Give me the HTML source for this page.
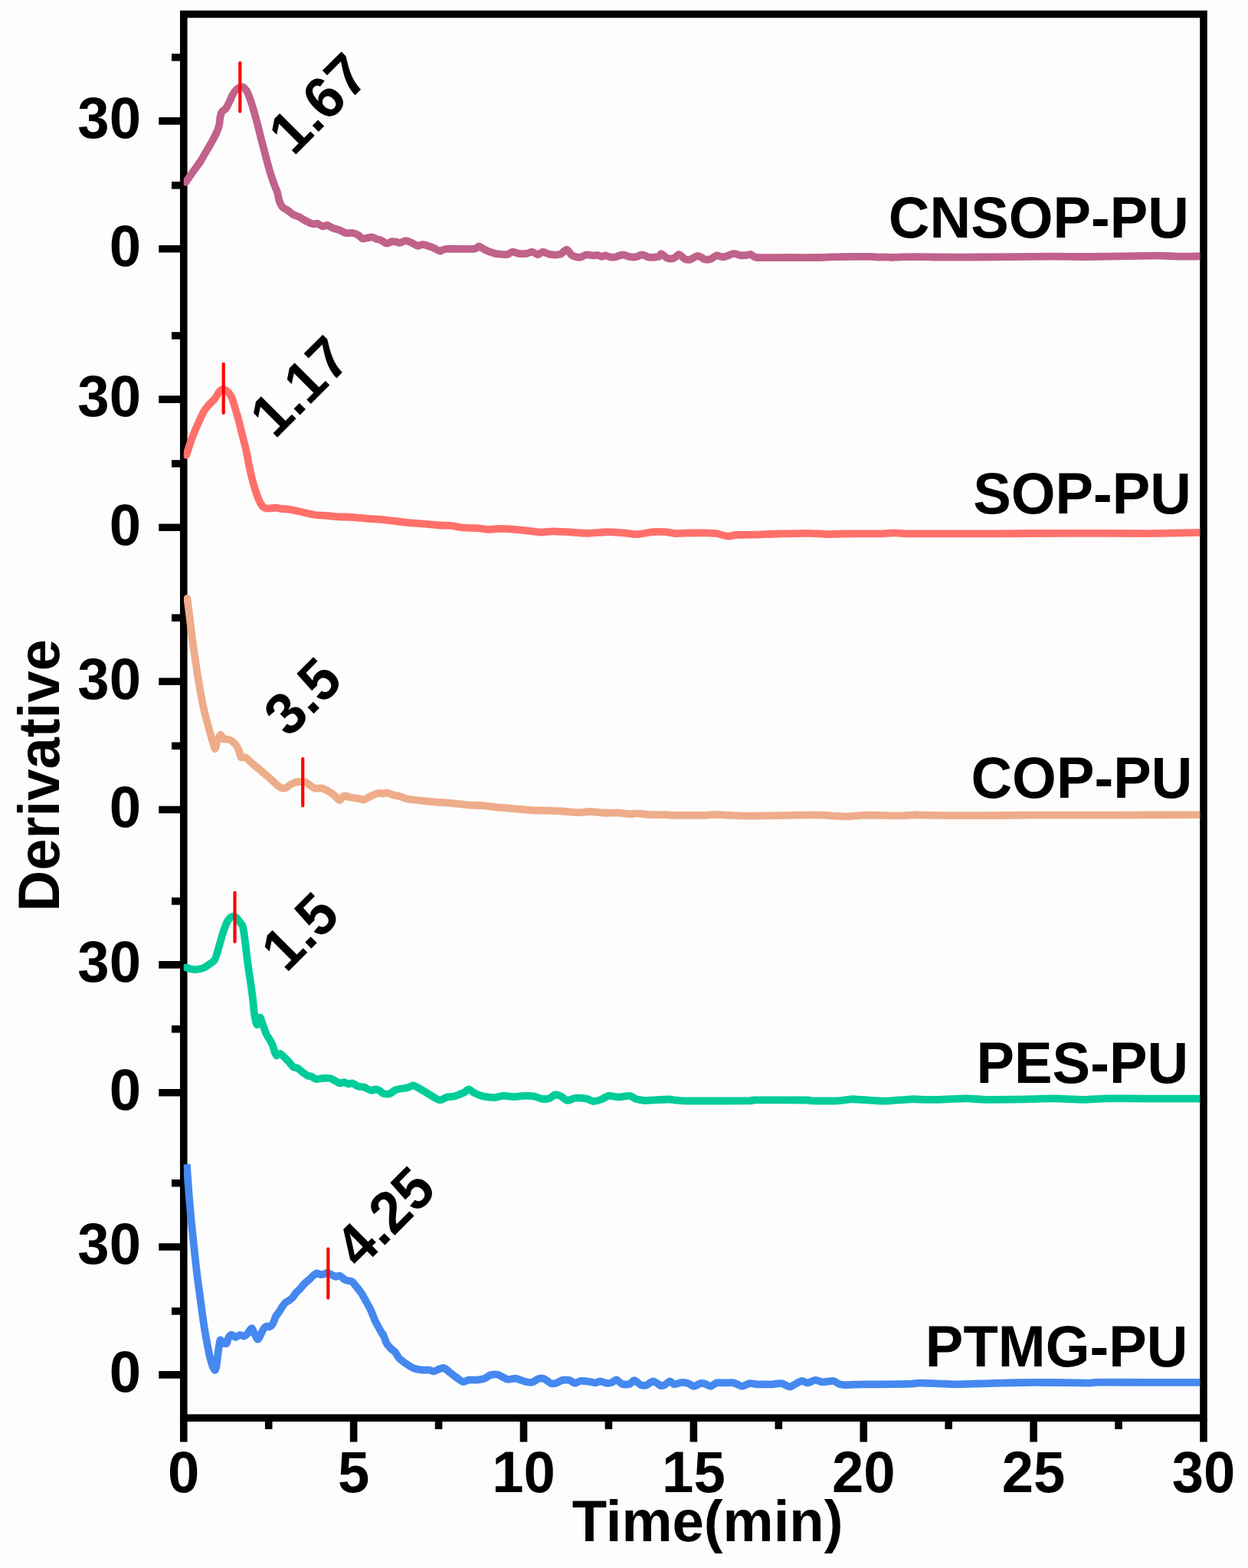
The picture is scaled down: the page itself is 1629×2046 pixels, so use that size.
<!DOCTYPE html>
<html lang="en"><head><meta charset="utf-8"><title>Derivative vs Time</title>
<style>html,body{margin:0;padding:0;background:#fdfdfd;}body{width:1629px;height:2046px;overflow:hidden;}svg{display:block;}</style>
</head><body>
<svg width="1629" height="2046" viewBox="0 0 1629 2046">
<rect width="1629" height="2046" fill="#fdfdfd"/>
<g stroke="#000" stroke-width="9.6" fill="none" stroke-linecap="butt">
<rect x="239.75" y="18.5" width="1331.25" height="1831.7"/>
<line x1="207.3" y1="157.9" x2="239.75" y2="157.9"/>
<line x1="207.3" y1="324.8" x2="239.75" y2="324.8"/>
<line x1="207.3" y1="521.1" x2="239.75" y2="521.1"/>
<line x1="207.3" y1="688.3" x2="239.75" y2="688.3"/>
<line x1="207.3" y1="889.2" x2="239.75" y2="889.2"/>
<line x1="207.3" y1="1056.5" x2="239.75" y2="1056.5"/>
<line x1="207.3" y1="1258.9" x2="239.75" y2="1258.9"/>
<line x1="207.3" y1="1425.8" x2="239.75" y2="1425.8"/>
<line x1="207.3" y1="1627.0" x2="239.75" y2="1627.0"/>
<line x1="207.3" y1="1793.9" x2="239.75" y2="1793.9"/>
<line x1="224" y1="74.85" x2="239.75" y2="74.85"/>
<line x1="224" y1="241.8" x2="239.75" y2="241.8"/>
<line x1="224" y1="438.0" x2="239.75" y2="438.0"/>
<line x1="224" y1="605.0" x2="239.75" y2="605.0"/>
<line x1="224" y1="806.2" x2="239.75" y2="806.2"/>
<line x1="224" y1="973.3" x2="239.75" y2="973.3"/>
<line x1="224" y1="1175.9" x2="239.75" y2="1175.9"/>
<line x1="224" y1="1342.8" x2="239.75" y2="1342.8"/>
<line x1="224" y1="1543.8" x2="239.75" y2="1543.8"/>
<line x1="224" y1="1710.9" x2="239.75" y2="1710.9"/>
<line x1="239.75" y1="1850.2" x2="239.75" y2="1881.5"/>
<line x1="461.62" y1="1850.2" x2="461.62" y2="1881.5"/>
<line x1="683.50" y1="1850.2" x2="683.50" y2="1881.5"/>
<line x1="905.38" y1="1850.2" x2="905.38" y2="1881.5"/>
<line x1="1127.25" y1="1850.2" x2="1127.25" y2="1881.5"/>
<line x1="1349.12" y1="1850.2" x2="1349.12" y2="1881.5"/>
<line x1="1571.00" y1="1850.2" x2="1571.00" y2="1881.5"/>
<line x1="350.69" y1="1850.2" x2="350.69" y2="1864.8"/>
<line x1="572.56" y1="1850.2" x2="572.56" y2="1864.8"/>
<line x1="794.44" y1="1850.2" x2="794.44" y2="1864.8"/>
<line x1="1016.31" y1="1850.2" x2="1016.31" y2="1864.8"/>
<line x1="1238.19" y1="1850.2" x2="1238.19" y2="1864.8"/>
<line x1="1460.06" y1="1850.2" x2="1460.06" y2="1864.8"/>
</g>
<clipPath id="plotclip"><rect x="239.75" y="18.5" width="1326.45" height="1831.7"/></clipPath>
<g fill="none" stroke-width="9.8" stroke-linejoin="round" clip-path="url(#plotclip)">
<path stroke="#c0628a" stroke-linecap="round" d="M242.5 237.7C243.7 236.0 249.8 227.2 252.1 223.9C254.4 220.6 259.0 214.6 261.3 211.0C263.6 207.4 268.4 199.0 270.5 195.4C272.6 191.8 276.3 185.5 277.9 182.5C279.5 179.5 282.4 173.8 283.4 171.4C284.4 169.0 285.7 165.5 286.2 163.1C286.7 160.7 287.0 154.3 287.5 152.1C288.0 149.9 289.0 146.9 289.9 145.6C290.8 144.3 293.4 143.5 294.5 142.0C295.6 140.5 298.0 136.0 299.1 133.7C300.2 131.4 302.6 125.6 303.7 123.5C304.8 121.4 307.1 118.3 308.3 117.1C309.5 115.9 312.1 114.2 313.2 113.8C314.3 113.4 316.4 113.2 317.5 113.8C318.6 114.4 321.0 116.9 322.1 118.9C323.2 120.9 325.6 126.8 326.7 130.0C327.8 133.2 330.2 140.8 331.3 144.7C332.4 148.6 334.8 156.9 335.9 161.3C337.0 165.7 339.4 175.2 340.5 179.7C341.6 184.2 344.0 192.8 345.1 197.2C346.2 201.6 348.6 210.6 349.7 214.7C350.8 218.8 353.2 226.7 354.3 230.3C355.4 233.9 357.9 240.5 358.9 243.2C359.9 245.8 361.5 249.2 362.2 251.5C362.9 253.8 363.6 259.4 364.4 261.7C365.2 264.0 367.1 268.3 368.5 269.9C369.9 271.5 373.7 273.2 375.5 274.5C377.3 275.8 381.1 279.1 382.9 280.1C384.7 281.1 388.4 281.9 390.2 282.8C392.0 283.7 395.8 286.4 397.6 287.4C399.5 288.4 403.5 290.5 405.0 291.1C406.5 291.7 408.5 292.3 409.6 292.4C410.8 292.5 412.7 291.3 414.2 291.7C415.7 292.1 419.9 295.1 421.5 295.4C423.1 295.7 425.5 293.6 427.1 293.9C428.7 294.2 432.3 296.8 434.4 297.6C436.5 298.4 441.5 299.5 443.6 300.3C445.7 301.1 448.9 303.5 451.0 304.0C453.1 304.5 458.1 303.6 460.2 304.0C462.3 304.4 466.0 305.9 467.6 306.8C469.2 307.7 471.7 310.9 473.1 311.4C474.5 311.9 477.0 310.7 478.6 310.5C480.2 310.3 484.4 309.3 486.0 309.5C487.6 309.7 490.1 311.4 491.5 311.9C492.9 312.4 495.6 312.6 497.0 313.2C498.4 313.8 501.5 316.4 502.6 316.9C503.8 317.4 505.1 317.7 506.2 317.5C507.3 317.3 510.4 315.3 511.8 315.1C513.2 314.9 516.0 315.4 517.3 315.6C518.6 315.8 520.3 317.1 521.9 316.9C523.5 316.7 527.8 314.2 529.8 314.2C531.8 314.2 535.7 316.1 537.6 316.9C539.5 317.7 543.5 320.5 545.3 320.8C547.1 321.1 549.5 318.9 551.9 319.1C554.2 319.3 561.3 321.6 564.1 322.6C566.9 323.7 571.6 327.2 574.0 327.5C576.4 327.8 577.4 325.1 582.9 324.8C588.4 324.5 613.0 325.2 618.2 324.8C623.5 324.4 623.1 321.4 624.9 321.5C626.7 321.6 630.0 324.5 632.6 325.7C635.2 326.9 643.1 330.0 645.9 330.8C648.7 331.6 652.6 331.8 654.7 331.9C656.8 332.0 660.6 332.3 662.4 331.9C664.2 331.5 667.3 328.7 669.1 328.6C670.9 328.5 674.5 330.5 676.8 330.8C679.1 331.1 685.6 331.1 687.8 330.8C690.0 330.5 692.7 328.4 694.5 328.6C696.3 328.8 700.4 332.3 702.2 332.3C704.0 332.3 706.9 328.7 708.8 328.6C710.7 328.6 714.9 331.5 717.7 331.9C720.5 332.3 728.1 332.7 730.9 331.9C733.7 331.1 737.9 325.6 739.8 325.7C741.7 325.8 744.3 331.7 746.4 333.0C748.5 334.3 754.0 336.0 756.4 335.9C758.8 335.8 763.0 332.8 765.2 332.5C767.4 332.2 772.1 333.3 774.0 333.4C775.9 333.5 779.3 332.8 780.7 333.0C782.1 333.2 783.9 334.8 785.1 334.8C786.3 334.9 789.1 333.3 790.6 333.4C792.1 333.5 795.5 335.4 797.2 335.6C798.9 335.8 802.0 335.6 803.9 335.2C805.8 334.8 810.4 332.5 812.7 332.5C815.1 332.5 820.5 334.9 822.7 335.2C824.9 335.5 828.5 335.5 830.4 335.2C832.3 334.9 835.9 332.4 838.1 332.5C840.3 332.6 845.4 335.6 848.1 335.9C850.8 336.2 858.1 335.4 860.0 334.8C861.9 334.2 861.9 331.0 863.3 331.3C864.7 331.6 868.9 336.2 871.0 336.9C873.1 337.6 877.9 337.5 879.8 336.9C881.7 336.3 884.7 331.8 886.5 332.0C888.3 332.2 892.3 337.4 894.2 338.2C896.1 339.0 899.8 338.8 901.9 338.2C904.0 337.6 908.6 333.8 910.8 333.8C913.0 333.8 917.5 337.6 919.6 338.2C921.7 338.8 925.4 338.8 927.3 338.2C929.2 337.6 933.2 333.9 935.1 333.5C937.0 333.1 940.9 335.3 942.8 335.3C944.7 335.3 948.7 334.1 950.6 333.5C952.5 332.9 956.4 330.9 958.3 330.9C960.2 330.8 964.1 332.8 966.0 333.1C967.9 333.4 972.0 333.2 973.8 333.1C975.6 333.0 978.6 331.6 980.4 332.0C982.2 332.4 982.3 335.5 988.1 336.0C993.9 336.5 1016.4 336.0 1026.8 336.0C1037.2 336.0 1063.8 336.1 1071.0 336.0C1078.2 335.9 1078.8 335.4 1084.3 335.3C1089.8 335.2 1108.6 334.9 1115.2 334.9C1121.8 334.8 1133.4 334.8 1137.3 334.9C1141.2 335.0 1143.9 335.6 1146.1 335.7C1148.3 335.8 1152.8 335.3 1155.0 335.3C1157.2 335.3 1161.0 336.0 1163.8 336.0C1166.6 336.0 1172.1 335.4 1177.1 335.3C1182.1 335.2 1197.7 335.1 1203.6 335.1C1209.5 335.1 1215.8 335.4 1224.6 335.5C1233.4 335.6 1255.3 335.6 1273.7 335.5C1292.1 335.4 1353.6 334.8 1372.0 334.7C1390.4 334.6 1404.2 335.1 1421.1 335.0C1438.0 334.9 1491.7 333.7 1507.1 333.7C1522.5 333.7 1536.3 334.6 1544.0 334.7C1551.7 334.8 1565.5 334.3 1568.6 334.2"/>
<path stroke="#ff706a" stroke-linecap="round" d="M243.3 593.8C243.9 591.8 247.1 581.9 248.4 578.1C249.7 574.3 252.4 567.1 253.9 563.4C255.4 559.7 258.8 552.2 260.4 548.7C262.0 545.2 265.2 538.4 266.8 535.8C268.4 533.1 271.6 529.5 273.3 527.5C275.0 525.5 279.1 522.0 280.6 520.1C282.1 518.2 284.2 514.1 285.2 512.7C286.2 511.3 287.9 509.2 288.9 508.7C289.9 508.2 292.4 508.1 293.5 508.5C294.6 508.9 297.0 510.5 298.1 511.8C299.2 513.1 301.6 516.4 302.7 519.2C303.8 522.0 306.1 530.0 307.3 533.9C308.5 537.8 310.8 546.1 312.0 550.5C313.2 554.9 315.5 564.3 316.6 568.9C317.8 573.5 320.2 582.7 321.2 587.3C322.2 591.9 323.9 601.3 324.8 605.7C325.7 610.1 327.5 618.1 328.5 622.3C329.5 626.4 332.0 635.2 333.1 638.9C334.2 642.6 336.6 649.1 337.7 651.8C338.8 654.4 341.2 658.7 342.3 660.1C343.4 661.5 345.3 662.8 346.9 663.2C348.5 663.6 353.6 663.3 355.2 663.2C356.8 663.1 358.4 662.2 359.8 662.3C361.2 662.4 364.3 663.5 366.3 663.8C368.3 664.0 373.0 664.0 375.5 664.3C378.0 664.6 383.5 665.9 386.5 666.5C389.5 667.1 396.2 668.6 399.4 669.3C402.6 670.0 408.6 671.5 412.3 672.0C416.0 672.5 425.2 672.7 428.9 673.0C432.6 673.3 437.9 674.1 441.8 674.3C445.7 674.5 455.6 674.5 460.2 674.8C464.8 675.1 474.2 676.2 478.6 676.6C483.0 677.0 492.5 677.4 495.2 677.6C497.9 677.8 497.6 677.8 500.0 678.1C502.4 678.4 510.7 679.3 514.7 679.8C518.7 680.3 527.0 681.3 531.9 681.8C536.8 682.3 548.9 683.2 554.1 683.7C559.3 684.2 569.4 685.2 573.7 685.5C578.0 685.8 584.8 685.5 588.5 685.9C592.2 686.3 598.9 688.0 603.2 688.4C607.5 688.8 618.6 688.8 622.9 689.1C627.2 689.4 633.9 690.8 637.6 690.9C641.3 691.0 648.0 689.9 652.3 689.9C656.6 689.9 667.1 690.5 672.0 690.9C676.9 691.3 687.3 692.3 691.6 692.8C695.9 693.2 702.7 694.4 706.4 694.5C710.1 694.6 716.8 693.3 721.1 693.3C725.4 693.2 735.3 693.8 740.8 694.1C746.3 694.4 760.2 695.7 765.4 695.8C770.6 695.9 778.9 695.0 782.6 694.8C786.3 694.6 790.8 694.0 794.8 694.1C798.8 694.2 809.9 694.9 814.5 695.3C819.1 695.7 827.1 697.4 831.7 697.2C836.3 697.1 846.8 694.5 851.4 694.1C856.0 693.7 864.9 693.9 868.6 694.1C872.3 694.3 876.9 695.8 880.8 696.0C884.7 696.2 895.2 695.6 899.7 695.5C904.2 695.4 912.6 695.2 916.9 695.3C921.2 695.4 930.0 695.5 934.1 696.0C938.2 696.5 946.6 699.5 950.0 699.7C953.4 700.0 956.6 698.2 961.1 698.0C965.6 697.8 978.6 697.9 985.7 697.7C992.8 697.5 1009.3 696.7 1017.6 696.5C1025.9 696.3 1045.2 695.8 1052.0 695.8C1058.8 695.8 1067.9 696.3 1071.6 696.5C1075.3 696.7 1077.8 697.2 1081.5 697.2C1085.2 697.2 1092.5 696.6 1101.1 696.5C1109.7 696.4 1142.0 696.4 1150.3 696.3C1158.6 696.1 1163.5 695.3 1167.5 695.3C1171.5 695.3 1178.1 696.2 1182.2 696.3C1186.3 696.4 1185.5 696.3 1200.0 696.3C1214.5 696.3 1273.7 696.4 1298.3 696.3C1322.9 696.2 1372.0 695.8 1396.6 695.8C1421.2 695.8 1473.3 696.2 1494.8 696.1C1516.3 696.0 1559.4 695.0 1568.6 694.8"/>
<path stroke="#eeac89" stroke-linecap="round" d="M244.4 780.9C244.7 783.0 246.0 792.8 246.6 797.6C247.2 802.5 248.6 814.2 249.3 819.7C250.0 825.2 251.3 836.3 252.1 841.8C252.9 847.3 254.6 858.6 255.4 863.9C256.2 869.2 257.6 878.9 258.5 884.2C259.4 889.5 261.3 901.2 262.2 906.3C263.1 911.4 265.0 920.6 265.9 924.7C266.8 928.8 268.6 935.5 269.6 939.4C270.6 943.3 273.2 952.3 274.2 956.0C275.2 959.7 277.1 966.2 277.9 968.9C278.7 971.5 279.9 977.3 280.6 977.2C281.3 977.1 282.5 970.3 283.4 968.0C284.3 965.7 286.5 959.3 287.5 958.8C288.5 958.3 290.5 963.5 291.7 964.3C292.9 965.0 295.8 964.4 297.2 964.8C298.6 965.1 301.3 966.1 302.7 967.1C304.1 968.1 307.1 971.0 308.3 972.6C309.5 974.2 311.2 977.9 312.0 979.9C312.8 981.9 313.7 987.2 314.7 988.2C315.7 989.2 318.6 987.4 320.2 988.2C321.8 989.0 325.5 992.9 327.6 994.7C329.7 996.5 334.5 1000.5 336.8 1002.4C339.1 1004.3 343.7 1008.3 346.0 1010.3C348.3 1012.3 353.1 1016.4 355.2 1018.3C357.3 1020.1 361.0 1023.8 362.6 1025.1C364.2 1026.4 366.7 1028.1 368.1 1028.4C369.5 1028.7 372.2 1028.4 373.6 1027.8C375.0 1027.2 377.6 1024.7 379.2 1023.8C380.8 1022.9 384.7 1021.0 386.5 1020.5C388.3 1020.0 392.3 1019.9 393.9 1019.9C395.5 1019.9 398.0 1020.1 399.4 1020.8C400.8 1021.4 403.5 1024.1 405.0 1025.1C406.5 1026.1 409.6 1028.3 411.4 1028.7C413.2 1029.1 417.7 1028.1 419.7 1028.4C421.7 1028.8 425.3 1030.5 427.1 1031.5C428.9 1032.5 432.8 1034.8 434.4 1036.1C436.0 1037.4 438.8 1040.6 439.9 1041.6C441.0 1042.6 442.7 1044.6 443.6 1044.4C444.5 1044.2 446.4 1040.5 447.3 1039.8C448.2 1039.1 449.9 1038.4 451.0 1038.5C452.1 1038.6 454.7 1039.9 456.5 1040.3C458.3 1040.7 463.4 1041.2 465.7 1041.6C468.0 1042.0 472.8 1043.7 474.9 1043.5C477.0 1043.3 480.4 1040.7 482.3 1039.8C484.2 1038.9 487.9 1036.7 489.7 1036.1C491.5 1035.5 495.7 1034.9 497.0 1034.8C498.3 1034.7 499.0 1035.6 500.0 1035.6C501.0 1035.5 503.4 1034.2 504.9 1034.4C506.4 1034.6 510.1 1036.3 512.3 1036.9C514.4 1037.5 519.6 1038.6 522.1 1039.3C524.6 1040.0 528.5 1041.8 531.9 1042.5C535.3 1043.2 544.5 1044.2 549.1 1044.7C553.7 1045.2 563.9 1046.3 568.8 1046.7C573.7 1047.1 583.3 1047.4 588.5 1047.9C593.7 1048.4 605.4 1050.0 610.6 1050.4C615.8 1050.8 625.6 1050.7 630.2 1051.1C634.8 1051.5 642.8 1052.8 647.4 1053.3C652.0 1053.8 661.6 1054.3 667.1 1054.8C672.6 1055.3 686.1 1056.6 691.6 1057.0C697.1 1057.4 706.1 1057.5 711.3 1057.7C716.5 1057.9 727.9 1058.2 733.4 1058.5C738.9 1058.8 750.9 1060.1 755.5 1060.2C760.1 1060.3 766.3 1058.9 770.3 1059.0C774.3 1059.1 782.9 1060.5 787.5 1060.7C792.1 1060.9 802.8 1060.5 807.1 1060.7C811.4 1060.9 818.8 1062.1 821.9 1062.2C825.0 1062.3 828.3 1061.3 831.7 1061.4C835.1 1061.5 844.3 1062.9 848.9 1063.1C853.5 1063.3 864.8 1063.0 868.6 1063.1C872.4 1063.2 878.2 1063.8 879.6 1063.9C881.0 1064.0 875.3 1063.9 880.0 1063.9C884.7 1063.9 910.4 1064.0 916.9 1063.9C923.4 1063.8 927.0 1062.9 931.6 1062.9C936.2 1062.9 947.9 1063.7 953.7 1063.9C959.5 1064.1 969.1 1064.6 978.3 1064.6C987.5 1064.6 1016.7 1064.1 1027.4 1063.9C1038.2 1063.8 1056.6 1063.3 1064.3 1063.4C1072.0 1063.5 1083.6 1064.3 1088.8 1064.6C1094.0 1064.8 1101.4 1065.5 1106.0 1065.4C1110.6 1065.3 1120.2 1064.1 1125.7 1063.9C1131.2 1063.7 1144.2 1063.8 1150.3 1063.9C1156.4 1064.0 1169.0 1064.5 1174.8 1064.4C1180.6 1064.3 1193.8 1063.2 1197.0 1063.1C1200.2 1063.0 1190.4 1063.6 1200.0 1063.7C1209.6 1063.8 1255.3 1064.2 1273.7 1064.2C1292.1 1064.2 1329.0 1063.8 1347.4 1063.7C1365.8 1063.6 1402.7 1063.7 1421.1 1063.7C1439.5 1063.7 1476.4 1063.5 1494.8 1063.4C1513.2 1063.3 1559.4 1063.2 1568.6 1063.2"/>
<path stroke="#00cc99" stroke-linecap="round" d="M242.9 1262.5C243.6 1262.7 246.9 1264.0 248.4 1264.3C249.9 1264.6 253.3 1265.2 254.9 1265.2C256.5 1265.2 259.8 1264.6 261.3 1264.3C262.8 1264.0 265.3 1263.3 266.8 1262.5C268.3 1261.7 271.7 1259.4 273.3 1258.2C274.9 1257.0 278.6 1254.7 279.7 1253.3C280.8 1251.9 281.7 1249.2 282.5 1246.8C283.3 1244.4 285.3 1237.1 286.2 1233.9C287.1 1230.7 289.0 1224.0 289.9 1221.0C290.8 1218.0 292.6 1212.4 293.5 1210.0C294.4 1207.6 296.3 1203.3 297.2 1201.7C298.1 1200.1 300.0 1197.9 300.9 1197.1C301.8 1196.3 303.7 1195.6 304.6 1195.6C305.5 1195.6 307.4 1196.3 308.3 1197.1C309.2 1197.9 311.0 1200.3 312.0 1201.7C313.0 1203.1 315.8 1206.1 316.6 1208.1C317.4 1210.0 317.9 1214.5 318.4 1217.3C318.8 1220.1 319.7 1226.5 320.2 1230.2C320.7 1233.9 321.5 1242.2 322.1 1246.8C322.7 1251.4 324.1 1262.3 324.8 1267.1C325.5 1271.9 327.0 1281.1 327.6 1285.5C328.2 1289.9 329.3 1297.7 329.8 1302.1C330.3 1306.5 331.3 1317.0 331.7 1320.5C332.1 1324.0 332.7 1327.6 333.1 1329.7C333.6 1331.8 334.7 1336.9 335.3 1337.1C335.9 1337.3 337.1 1332.7 337.7 1331.5C338.3 1330.3 339.3 1327.3 339.9 1327.8C340.5 1328.3 341.6 1333.4 342.3 1335.2C343.0 1337.0 344.4 1340.8 345.1 1342.6C345.8 1344.4 347.0 1348.1 347.9 1349.9C348.8 1351.7 351.5 1355.5 352.5 1357.3C353.5 1359.1 355.4 1362.6 356.2 1364.7C357.0 1366.8 358.3 1372.3 358.9 1373.9C359.5 1375.5 360.3 1377.5 361.1 1377.6C361.9 1377.7 364.3 1374.7 365.4 1374.8C366.5 1374.9 368.5 1377.1 370.0 1378.5C371.5 1379.9 375.7 1384.2 377.3 1385.9C378.9 1387.6 381.5 1391.3 382.9 1392.3C384.3 1393.3 386.8 1392.9 388.4 1393.8C390.0 1394.7 394.1 1398.5 395.7 1399.7C397.3 1400.9 399.9 1402.8 401.3 1403.4C402.7 1404.0 405.4 1404.2 406.8 1404.8C408.2 1405.4 410.5 1407.7 412.3 1408.0C414.1 1408.3 419.2 1407.1 421.5 1407.0C423.8 1406.9 428.6 1406.5 430.7 1407.0C432.8 1407.5 436.5 1409.9 438.1 1410.7C439.7 1411.5 442.2 1413.3 443.6 1413.5C445.0 1413.7 447.8 1412.1 449.2 1412.2C450.6 1412.3 453.3 1414.2 454.7 1414.4C456.1 1414.6 458.6 1413.1 460.2 1413.5C461.8 1413.9 465.8 1417.1 467.6 1417.7C469.4 1418.3 472.8 1417.9 474.9 1418.5C477.0 1419.1 482.1 1422.3 484.1 1422.7C486.1 1423.1 489.1 1421.3 490.6 1421.4C492.1 1421.5 494.9 1422.9 496.1 1423.6C497.3 1424.3 498.4 1426.2 500.0 1426.7C501.6 1427.2 506.5 1427.8 508.6 1427.2C510.8 1426.6 514.3 1422.8 517.2 1421.8C520.1 1420.8 529.1 1420.0 531.9 1419.3C534.7 1418.6 537.4 1416.3 539.3 1416.4C541.1 1416.5 544.2 1418.5 546.7 1419.8C549.2 1421.1 555.6 1425.3 559.0 1427.2C562.4 1429.1 570.6 1434.8 573.7 1435.3C576.8 1435.8 581.0 1432.2 583.5 1431.6C586.0 1431.0 590.6 1431.2 593.4 1430.4C596.2 1429.6 603.4 1426.6 605.7 1425.5C608.0 1424.4 610.1 1421.2 611.8 1421.3C613.5 1421.4 616.9 1425.1 619.2 1426.2C621.5 1427.3 627.0 1429.7 630.2 1430.4C633.4 1431.1 641.6 1432.2 645.0 1432.1C648.4 1432.0 653.8 1430.0 657.2 1429.9C660.6 1429.8 668.6 1431.1 672.0 1431.1C675.4 1431.1 681.2 1430.0 684.3 1429.9C687.4 1429.8 693.8 1429.9 696.6 1430.4C699.4 1430.9 703.9 1433.2 706.4 1433.6C708.9 1434.0 713.9 1434.2 716.2 1433.6C718.5 1432.9 722.8 1428.8 724.8 1428.4C726.8 1428.0 730.2 1429.5 732.2 1430.4C734.2 1431.4 738.5 1435.7 740.8 1436.0C743.1 1436.3 747.5 1433.1 750.6 1432.8C753.7 1432.5 762.3 1433.1 765.4 1433.6C768.5 1434.1 772.8 1436.9 775.2 1437.0C777.7 1437.1 782.5 1435.4 785.0 1434.5C787.5 1433.6 792.0 1430.3 794.8 1429.9C797.6 1429.5 803.7 1431.6 807.1 1431.6C810.5 1431.6 819.0 1429.6 821.9 1429.9C824.8 1430.2 828.0 1433.3 830.5 1434.1C833.0 1434.9 838.6 1435.8 841.5 1436.0C844.4 1436.2 849.8 1435.5 853.8 1435.3C857.8 1435.1 870.2 1434.5 873.5 1434.5C876.8 1434.5 876.7 1435.0 880.0 1435.3C883.3 1435.5 887.4 1436.4 899.7 1436.5C912.0 1436.6 967.5 1436.5 978.3 1436.3C989.0 1436.1 976.5 1435.4 985.7 1435.3C994.9 1435.2 1042.8 1435.4 1052.0 1435.5C1061.2 1435.6 1054.2 1436.2 1059.4 1436.3C1064.6 1436.4 1087.3 1436.5 1093.8 1436.3C1100.2 1436.0 1107.0 1434.5 1111.0 1434.3C1115.0 1434.1 1121.1 1434.7 1125.7 1435.0C1130.3 1435.3 1143.2 1436.3 1147.8 1436.5C1152.4 1436.7 1157.4 1436.6 1162.6 1436.3C1167.8 1436.0 1184.9 1434.5 1189.6 1434.3C1194.3 1434.1 1195.6 1434.5 1200.0 1434.6C1204.4 1434.7 1216.9 1434.9 1224.6 1434.8C1232.3 1434.7 1253.7 1433.4 1261.4 1433.4C1269.1 1433.4 1275.2 1434.7 1286.0 1434.8C1296.8 1434.9 1336.0 1434.3 1347.4 1434.1C1358.8 1433.9 1368.6 1433.3 1376.9 1433.4C1385.2 1433.5 1405.2 1434.8 1413.8 1434.8C1422.4 1434.8 1435.6 1433.6 1445.7 1433.4C1455.8 1433.2 1479.4 1433.6 1494.8 1433.6C1510.2 1433.6 1559.4 1433.6 1568.6 1433.6"/>
<path stroke="#4588ef" stroke-linecap="butt" d="M243.8 1519.2C244.0 1521.5 244.7 1532.3 245.1 1537.6C245.5 1542.9 246.4 1555.1 246.9 1561.6C247.4 1568.0 248.7 1582.3 249.3 1589.2C250.0 1596.1 251.4 1610.1 252.1 1616.8C252.8 1623.5 254.2 1636.4 254.9 1642.6C255.6 1648.8 256.9 1661.0 257.6 1666.5C258.3 1672.0 259.7 1681.7 260.4 1686.8C261.1 1691.9 262.4 1702.0 263.1 1707.1C263.8 1712.2 265.2 1722.7 265.9 1727.3C266.6 1731.9 268.0 1740.0 268.7 1743.9C269.4 1747.8 270.7 1755.1 271.4 1758.6C272.1 1762.0 273.4 1768.5 274.2 1771.5C275.0 1774.5 276.7 1780.5 277.5 1782.6C278.3 1784.7 280.0 1788.1 280.6 1788.1C281.2 1788.1 282.0 1785.1 282.5 1782.6C283.0 1780.1 283.8 1771.3 284.3 1767.8C284.8 1764.3 285.8 1757.3 286.2 1754.9C286.6 1752.5 287.0 1749.0 287.5 1748.5C288.0 1748.0 289.3 1750.7 289.9 1751.3C290.5 1751.9 291.9 1752.9 292.6 1753.1C293.4 1753.3 295.2 1753.7 295.9 1752.7C296.6 1751.7 297.6 1746.2 298.5 1744.8C299.4 1743.4 301.6 1741.7 302.7 1741.7C303.8 1741.7 306.0 1744.8 307.3 1744.8C308.6 1744.8 311.5 1742.2 312.9 1742.0C314.3 1741.8 317.1 1743.7 318.4 1743.5C319.7 1743.3 321.7 1741.5 323.0 1740.2C324.3 1738.9 327.4 1733.2 328.5 1733.2C329.6 1733.2 331.2 1738.4 332.2 1740.2C333.2 1742.0 335.4 1747.5 336.4 1747.6C337.4 1747.7 339.5 1742.8 340.5 1741.1C341.5 1739.4 343.3 1735.1 344.2 1733.8C345.1 1732.5 347.0 1730.9 347.9 1730.6C348.8 1730.3 350.5 1731.9 351.5 1731.5C352.5 1731.1 355.2 1729.0 356.2 1727.3C357.2 1725.6 358.8 1720.0 359.8 1718.1C360.8 1716.1 363.2 1713.4 364.4 1711.7C365.5 1710.0 368.0 1705.8 369.0 1704.3C370.0 1702.8 371.7 1700.6 372.7 1699.7C373.7 1698.8 376.2 1697.7 377.3 1696.9C378.4 1696.1 380.8 1694.5 381.9 1693.2C383.0 1691.9 385.2 1688.3 386.5 1686.8C387.8 1685.3 390.7 1682.8 392.1 1681.3C393.5 1679.8 396.1 1676.3 397.6 1674.8C399.1 1673.3 402.5 1670.7 404.0 1669.3C405.5 1667.9 408.5 1664.8 409.6 1663.8C410.8 1662.8 412.2 1661.5 413.2 1661.4C414.2 1661.3 416.7 1662.8 417.8 1663.0C418.9 1663.2 421.2 1663.0 422.4 1662.7C423.6 1662.5 425.8 1660.9 427.1 1661.0C428.4 1661.1 431.2 1662.6 432.6 1663.2C434.0 1663.8 436.7 1665.6 438.1 1665.8C439.5 1666.0 442.2 1664.3 443.6 1664.7C445.0 1665.1 447.9 1668.5 449.2 1669.3C450.5 1670.1 452.5 1670.8 453.8 1671.1C455.1 1671.4 457.9 1671.2 459.3 1672.1C460.7 1673.0 463.3 1676.7 464.8 1678.5C466.3 1680.3 469.7 1684.4 471.3 1686.8C472.9 1689.2 476.1 1694.9 477.7 1697.8C479.3 1700.7 482.6 1706.6 484.1 1709.8C485.6 1713.0 488.3 1720.6 489.7 1723.6C491.1 1726.6 493.9 1731.5 495.2 1733.8C496.5 1736.1 499.2 1741.1 499.8 1742.0C500.4 1742.9 499.4 1739.5 500.0 1740.9C500.6 1742.3 503.5 1750.8 504.9 1753.2C506.3 1755.7 509.7 1759.1 511.1 1760.5C512.5 1761.9 514.8 1763.2 516.0 1764.7C517.2 1766.2 519.2 1770.3 520.9 1772.1C522.6 1773.9 527.2 1777.4 529.5 1779.0C531.8 1780.6 536.7 1784.0 539.3 1785.1C541.9 1786.2 547.8 1787.3 550.4 1787.6C553.0 1787.9 558.2 1787.4 560.2 1787.6C562.2 1787.8 564.6 1789.5 566.3 1789.3C568.0 1789.1 572.0 1786.8 573.7 1786.3C575.4 1785.8 578.2 1784.5 579.9 1785.1C581.6 1785.7 585.2 1789.3 587.2 1790.8C589.2 1792.3 593.6 1795.9 595.8 1797.4C597.9 1798.9 602.4 1802.6 604.4 1803.0C606.4 1803.4 609.5 1800.9 611.8 1800.6C614.1 1800.3 620.3 1800.8 622.9 1800.6C625.5 1800.3 630.6 1799.4 632.7 1798.6C634.8 1797.8 637.9 1794.8 640.0 1794.2C642.1 1793.6 647.8 1793.3 649.9 1793.7C652.0 1794.1 655.5 1796.6 657.2 1797.4C658.9 1798.2 661.4 1799.8 663.4 1799.9C665.4 1800.1 670.9 1798.4 673.2 1798.6C675.5 1798.8 679.8 1801.0 681.8 1801.6C683.8 1802.2 687.5 1803.3 689.2 1803.5C690.9 1803.7 693.6 1804.0 695.3 1803.5C697.0 1803.0 700.9 1799.6 702.7 1799.1C704.6 1798.5 708.1 1798.4 710.1 1799.1C712.1 1799.8 716.7 1804.1 718.7 1804.8C720.7 1805.5 724.2 1805.3 726.0 1804.8C727.8 1804.3 731.2 1801.6 733.4 1801.1C735.5 1800.6 741.1 1800.6 743.2 1801.1C745.4 1801.6 748.8 1804.7 750.6 1804.8C752.5 1804.9 755.5 1802.0 758.0 1801.8C760.5 1801.6 767.8 1802.7 770.3 1803.0C772.8 1803.3 775.9 1804.4 777.6 1804.3C779.3 1804.2 782.1 1802.2 783.8 1802.3C785.5 1802.4 789.4 1804.6 791.2 1804.8C793.0 1805.0 796.8 1804.6 798.5 1804.0C800.2 1803.4 803.0 1800.0 804.7 1800.3C806.4 1800.5 809.9 1805.3 812.0 1806.0C814.1 1806.7 819.9 1806.6 821.9 1806.0C823.9 1805.4 826.2 1800.9 828.0 1801.1C829.8 1801.2 834.6 1806.4 836.6 1807.2C838.6 1808.0 842.0 1807.8 844.0 1807.2C846.0 1806.6 850.3 1802.2 852.6 1802.3C854.9 1802.4 860.6 1807.4 862.4 1808.0C864.2 1808.6 865.8 1807.9 867.3 1807.2C868.8 1806.5 873.1 1802.4 874.7 1802.3C876.3 1802.2 878.1 1806.1 880.0 1806.3C881.9 1806.5 887.5 1804.1 889.8 1803.9C892.1 1803.8 896.4 1804.5 898.4 1805.1C900.4 1805.7 903.8 1808.8 905.8 1808.8C907.8 1808.8 912.6 1805.5 914.4 1805.1C916.2 1804.7 918.8 1805.3 920.5 1805.8C922.2 1806.3 926.0 1809.0 927.9 1808.8C929.8 1808.6 933.0 1805.0 935.3 1804.4C937.6 1803.9 943.5 1804.4 946.3 1804.4C949.1 1804.4 954.6 1803.9 957.4 1804.4C960.2 1805.0 965.9 1808.7 968.5 1808.8C971.1 1808.9 975.8 1805.4 978.3 1805.1C980.8 1804.8 985.6 1806.1 988.1 1806.3C990.6 1806.5 995.4 1806.3 997.9 1806.3C1000.4 1806.3 1005.0 1806.5 1007.8 1806.3C1010.6 1806.1 1017.1 1804.7 1020.0 1805.1C1022.9 1805.5 1028.6 1809.5 1031.1 1809.5C1033.6 1809.5 1037.7 1806.0 1039.7 1805.1C1041.7 1804.1 1045.3 1802.0 1047.1 1801.9C1048.9 1801.8 1052.2 1804.5 1054.4 1804.4C1056.6 1804.3 1061.8 1801.0 1064.3 1800.9C1066.8 1800.8 1071.2 1803.3 1074.1 1803.4C1077.0 1803.5 1085.0 1801.6 1087.6 1801.9C1090.2 1802.2 1093.2 1805.2 1095.0 1805.8C1096.8 1806.4 1098.6 1807.0 1102.4 1807.1C1106.2 1807.2 1119.7 1806.4 1125.7 1806.3C1131.7 1806.2 1142.6 1806.4 1150.3 1806.3C1158.0 1806.2 1180.9 1806.0 1187.1 1805.8C1193.3 1805.6 1195.3 1804.7 1200.0 1804.6C1204.7 1804.5 1218.5 1805.1 1224.6 1805.3C1230.7 1805.5 1239.9 1806.4 1249.1 1806.3C1258.3 1806.2 1286.0 1805.1 1298.3 1804.8C1310.6 1804.5 1333.6 1804.0 1347.4 1803.9C1361.2 1803.8 1399.6 1804.2 1408.8 1804.3C1418.0 1804.4 1417.7 1804.7 1421.1 1804.6C1424.5 1804.5 1426.7 1803.7 1435.9 1803.6C1445.1 1803.5 1478.2 1803.9 1494.8 1803.9C1511.4 1803.9 1559.4 1803.9 1568.6 1803.9"/>
</g>
<g stroke="#ff0000" stroke-width="4.2" stroke-linecap="round">
<line x1="313.3" y1="82.1" x2="313.3" y2="145.5"/>
<line x1="291.7" y1="474.9" x2="291.7" y2="539.0"/>
<line x1="395.2" y1="990.0" x2="395.2" y2="1051.3"/>
<line x1="306.5" y1="1164.8" x2="306.5" y2="1228.8"/>
<line x1="428.3" y1="1629.7" x2="428.3" y2="1693.7"/>
</g>
<g font-family="'Liberation Sans', Arial, Helvetica, sans-serif" font-weight="bold" font-size="74.3px" fill="#000">
<text transform="translate(184.00,180.20) scale(1,1.035)" text-anchor="end">30</text>
<text transform="translate(184.00,347.10) scale(1,1.035)" text-anchor="end">0</text>
<text transform="translate(184.00,543.40) scale(1,1.035)" text-anchor="end">30</text>
<text transform="translate(184.00,710.60) scale(1,1.035)" text-anchor="end">0</text>
<text transform="translate(184.00,911.50) scale(1,1.035)" text-anchor="end">30</text>
<text transform="translate(184.00,1078.80) scale(1,1.035)" text-anchor="end">0</text>
<text transform="translate(184.00,1281.20) scale(1,1.035)" text-anchor="end">30</text>
<text transform="translate(184.00,1448.10) scale(1,1.035)" text-anchor="end">0</text>
<text transform="translate(184.00,1649.30) scale(1,1.035)" text-anchor="end">30</text>
<text transform="translate(184.00,1816.20) scale(1,1.035)" text-anchor="end">0</text>
<text transform="translate(239.75,1947.00) scale(1,1.035)" text-anchor="middle">0</text>
<text transform="translate(461.62,1947.00) scale(1,1.035)" text-anchor="middle">5</text>
<text transform="translate(683.50,1947.00) scale(1,1.035)" text-anchor="middle">10</text>
<text transform="translate(905.38,1947.00) scale(1,1.035)" text-anchor="middle">15</text>
<text transform="translate(1127.25,1947.00) scale(1,1.035)" text-anchor="middle">20</text>
<text transform="translate(1349.12,1947.00) scale(1,1.035)" text-anchor="middle">25</text>
<text transform="translate(1571.00,1947.00) scale(1,1.035)" text-anchor="middle">30</text>
<text transform="translate(923.60,2010.80) scale(1,1.035)" text-anchor="middle">Time(min)</text>
<text transform="translate(77.20,1011.80) rotate(-90) scale(1,1.035)" text-anchor="middle">Derivative</text>
<text transform="translate(1552.00,310.40) scale(1,1.035)" text-anchor="end">CNSOP-PU</text>
<text transform="translate(1555.00,670.30) scale(1,1.035)" text-anchor="end">SOP-PU</text>
<text transform="translate(1556.40,1040.60) scale(1,1.035)" text-anchor="end">COP-PU</text>
<text transform="translate(1551.10,1413.20) scale(1,1.035)" text-anchor="end">PES-PU</text>
<text transform="translate(1550.40,1782.50) scale(1,1.035)" text-anchor="end">PTMG-PU</text>
<text transform="translate(383.00,204.80) rotate(-45) scale(1,1.035)" text-anchor="start">1.67</text>
<text transform="translate(358.70,574.10) rotate(-45) scale(1,1.035)" text-anchor="start">1.17</text>
<text transform="translate(376.90,964.00) rotate(-45) scale(1,1.035)" text-anchor="start">3.5</text>
<text transform="translate(373.50,1270.50) rotate(-45) scale(1,1.035)" text-anchor="start">1.5</text>
<text transform="translate(469.60,1657.50) rotate(-45) scale(1,1.035)" text-anchor="start">4.25</text>
</g>
</svg>
</body></html>
